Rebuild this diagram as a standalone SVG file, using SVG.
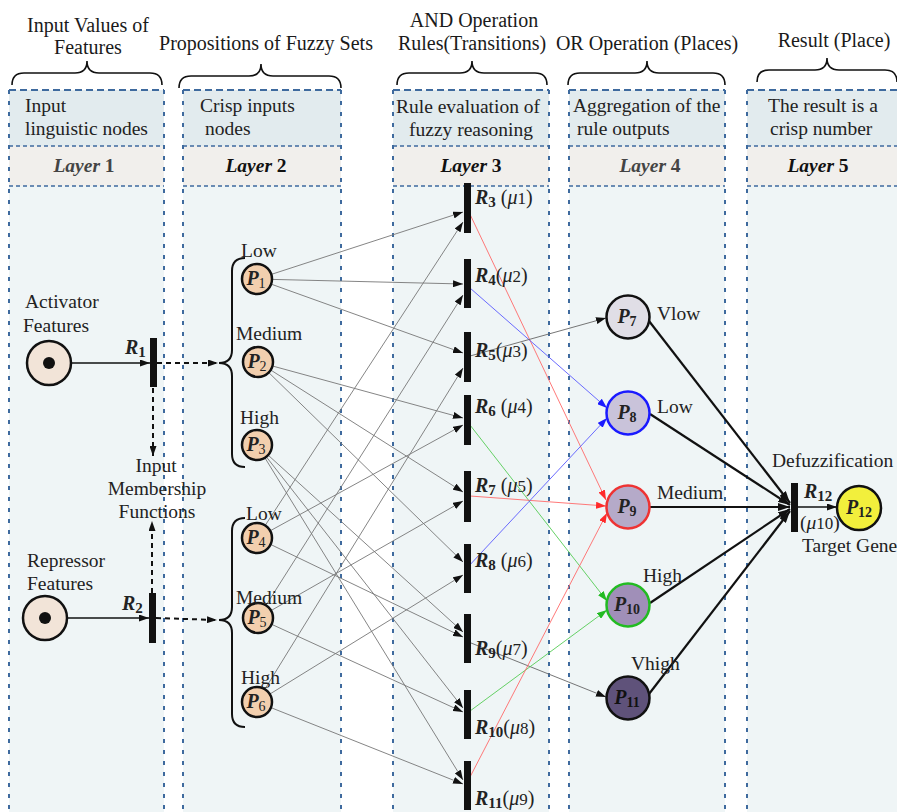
<svg xmlns="http://www.w3.org/2000/svg" width="897" height="812" viewBox="0 0 897 812">
<style>
text{font-family:"Liberation Serif","Times New Roman",serif;fill:#222;font-size:19.5px}
.hdr{font-size:20px;fill:#1a1a1a}
.band1{fill:#e2ebee}
.band2{fill:#f1efec}
.body{fill:#eff5f6}
.bt{fill:none;stroke:#3e6a9e;stroke-width:2;stroke-dasharray:7,4}
.bs{fill:none;stroke:#3e6a9e;stroke-width:2;stroke-dasharray:4,7}
.sep{fill:none;stroke:#3e6a9e;stroke-width:1.6;stroke-dasharray:4,3}
.brace{fill:none;stroke:#111;stroke-width:1.6}
.bi{font-weight:bold;font-style:italic}
.b{font-weight:bold}
.it{font-style:italic}
.sub{font-size:14px}
.rs{font-size:15px;font-weight:bold}
.rl{font-size:20px}
.pin{fill:#f2cfae;stroke:#111;stroke-width:2.5}
.bar{fill:#111}
.thin{stroke:#777;stroke-width:0.9;fill:none;marker-end:url(#ak)}
.gr{stroke:#666;stroke-width:0.9;fill:none;marker-end:url(#ak)}
.rd{stroke:#ff6a6a;stroke-width:0.9;fill:none;marker-end:url(#ar)}
.bl{stroke:#5a5aff;stroke-width:0.9;fill:none;marker-end:url(#ab)}
.gn{stroke:#55cc55;stroke-width:0.9;fill:none;marker-end:url(#ag)}
.thick{stroke:#111;stroke-width:2.2;fill:none;marker-end:url(#akb)}
.solid{stroke:#111;stroke-width:1.6;fill:none;marker-end:url(#ak)}
.dash{stroke:#111;stroke-width:2;fill:none;stroke-dasharray:5,4;marker-end:url(#ak)}
</style>
<defs>
<marker id="ak" viewBox="0 0 10 7" markerWidth="10" markerHeight="7" refX="10" refY="3.5" orient="auto" markerUnits="userSpaceOnUse"><path d="M0,0 L10,3.5 L0,7 z" fill="#111"/></marker>
<marker id="akb" viewBox="0 0 12 8" markerWidth="12" markerHeight="8" refX="12" refY="4" orient="auto" markerUnits="userSpaceOnUse"><path d="M0,0 L12,4 L0,8 z" fill="#111"/></marker>
<marker id="ar" viewBox="0 0 10 7" markerWidth="10" markerHeight="7" refX="10" refY="3.5" orient="auto" markerUnits="userSpaceOnUse"><path d="M0,0 L10,3.5 L0,7 z" fill="#ff2a2a"/></marker>
<marker id="ab" viewBox="0 0 10 7" markerWidth="10" markerHeight="7" refX="10" refY="3.5" orient="auto" markerUnits="userSpaceOnUse"><path d="M0,0 L10,3.5 L0,7 z" fill="#1a1aff"/></marker>
<marker id="ag" viewBox="0 0 10 7" markerWidth="10" markerHeight="7" refX="10" refY="3.5" orient="auto" markerUnits="userSpaceOnUse"><path d="M0,0 L10,3.5 L0,7 z" fill="#22bb22"/></marker>
</defs>
<rect width="897" height="812" fill="#fff"/>

<g id="panels">
<rect class="band1" x="9" y="90" width="155" height="56"/><rect class="band2" x="9" y="146" width="155" height="40"/><rect class="body" x="9" y="186" width="155" height="626"/>
<rect class="band1" x="183" y="90" width="158" height="56"/><rect class="band2" x="183" y="146" width="158" height="40"/><rect class="body" x="183" y="186" width="158" height="626"/>
<rect class="band1" x="393" y="90" width="156" height="56"/><rect class="band2" x="393" y="146" width="156" height="40"/><rect class="body" x="393" y="186" width="156" height="626"/>
<rect class="band1" x="569" y="90" width="156" height="56"/><rect class="band2" x="569" y="146" width="156" height="40"/><rect class="body" x="569" y="186" width="156" height="626"/>
<rect class="band1" x="747" y="90" width="152" height="56"/><rect class="band2" x="747" y="146" width="152" height="40"/><rect class="body" x="747" y="186" width="152" height="626"/>
<path class="bt" d="M9,90 H164 M183,90 H341 M393,90 H549 M569,90 H725 M747,90 H897"/>
<path class="sep" d="M9,146 H164 M183,146 H341 M393,146 H549 M569,146 H725 M747,146 H897 M9,186 H164 M183,186 H341 M393,186 H549 M569,186 H725 M747,186 H897"/>
<path class="bs" d="M9,90 V812 M164,90 V812 M183,90 V812 M341,90 V812 M393,90 V812 M549,90 V812 M569,90 V812 M725,90 V812 M747,90 V812"/>
</g>

<g id="headers">
<text class="hdr" x="88" y="32" text-anchor="middle">Input Values of</text>
<text class="hdr" x="88" y="54" text-anchor="middle">Features</text>
<text class="hdr" x="266" y="50" text-anchor="middle">Propositions of Fuzzy Sets</text>
<text class="hdr" x="474" y="27" text-anchor="middle">AND Operation</text>
<text class="hdr" x="472" y="50" text-anchor="middle">Rules(Transitions)</text>
<text class="hdr" x="647" y="50" text-anchor="middle">OR Operation (Places)</text>
<text class="hdr" x="834" y="47" text-anchor="middle">Result (Place)</text>
<path class="brace" d="M12,85 Q12,73 24,73 L75,73 Q87,73 87,61 Q87,73 99,73 L150,73 Q162,73 162,85"/>
<path class="brace" d="M179,88 Q179,76 191,76 L249,76 Q261,76 261,64 Q261,76 273,76 L329,76 Q341,76 341,88"/>
<path class="brace" d="M397,85 Q397,73 409,73 L460,73 Q472,73 472,61 Q472,73 484,73 L535,73 Q547,73 547,85"/>
<path class="brace" d="M568,85 Q568,73 580,73 L635,73 Q647,73 647,61 Q647,73 659,73 L713,73 Q725,73 725,85"/>
<path class="brace" d="M757,82 Q757,70 769,70 L815,70 Q827,70 827,58 Q827,70 839,70 L885,70 Q897,70 897,82"/>
<text x="25" y="112">Input</text>
<text x="25" y="135">linguistic nodes</text>
<text x="200" y="112">Crisp inputs</text>
<text x="205" y="135">nodes</text>
<text x="396" y="113">Rule evaluation of</text>
<text x="409" y="136">fuzzy reasoning</text>
<text x="573" y="112">Aggregation of the</text>
<text x="577" y="135">rule outputs</text>
<text x="768" y="112">The result is a</text>
<text x="770" y="135">crisp number</text>
<text x="84" y="172" text-anchor="middle" style="fill:#444"><tspan class="bi">Layer</tspan><tspan class="b"> 1</tspan></text>
<text x="256" y="172" text-anchor="middle" style="fill:#111"><tspan class="bi">Layer</tspan><tspan class="b"> 2</tspan></text>
<text x="471" y="172" text-anchor="middle" style="fill:#111"><tspan class="bi">Layer</tspan><tspan class="b"> 3</tspan></text>
<text x="650" y="172" text-anchor="middle" style="fill:#444"><tspan class="bi">Layer</tspan><tspan class="b"> 4</tspan></text>
<text x="818" y="172" text-anchor="middle" style="fill:#111"><tspan class="bi">Layer</tspan><tspan class="b"> 5</tspan></text>
</g>

<g id="connectors">
<line class="solid" x1="71" y1="363" x2="150" y2="363"/>
<line class="solid" x1="67" y1="618" x2="149" y2="618"/>
<line class="dash" x1="157" y1="363" x2="218" y2="363"/>
<line class="dash" x1="156" y1="618" x2="217" y2="620"/>
<line class="dash" x1="153" y1="388" x2="153" y2="456"/>
<line class="dash" x1="152" y1="593" x2="152" y2="521"/>
<path class="brace" style="stroke-width:2" d="M245,258 Q232,258 232,271 L232,350 Q232,363 219,363 Q232,363 232,376 L232,454 Q232,467 245,467"/>
<path class="brace" style="stroke-width:2" d="M245,518 Q232,518 232,531 L232,607 Q232,620 219,620 Q232,620 232,633 L232,714 Q232,727 245,727"/>
<line class="thin" x1="271.3" y1="274.4" x2="463" y2="212"/>
<line class="thin" x1="272" y1="279.4" x2="463" y2="284"/>
<line class="thin" x1="271.1" y1="284.1" x2="463" y2="353"/>
<line class="thin" x1="272.5" y1="366" x2="463" y2="418"/>
<line class="thin" x1="270.7" y1="370" x2="463" y2="492"/>
<line class="thin" x1="268.7" y1="372.5" x2="463" y2="562"/>
<line class="thin" x1="268.1" y1="455.1" x2="463" y2="632"/>
<line class="thin" x1="266.3" y1="456.8" x2="463" y2="708"/>
<line class="thin" x1="264.9" y1="457.8" x2="463" y2="780"/>
<line class="thin" x1="265.2" y1="525.4" x2="463" y2="222"/>
<line class="thin" x1="270.2" y1="530.8" x2="463" y2="425"/>
<line class="thin" x1="270.5" y1="544.4" x2="463" y2="637"/>
<line class="thin" x1="266" y1="605.3" x2="463" y2="295"/>
<line class="thin" x1="271" y1="610.6" x2="463" y2="501"/>
<line class="thin" x1="271.6" y1="624.3" x2="463" y2="712"/>
<line class="thin" x1="264.9" y1="689.2" x2="463" y2="368"/>
<line class="thin" x1="269.8" y1="694.1" x2="463" y2="575"/>
<line class="thin" x1="270.9" y1="707.6" x2="463" y2="784"/>
<line class="rd" x1="467" y1="208" x2="606" y2="500"/>
<line class="bl" x1="470" y1="288" x2="607" y2="408"/>
<line class="gr" x1="470" y1="356" x2="606" y2="318"/>
<line class="gn" x1="470" y1="425" x2="607" y2="601"/>
<line class="rd" x1="470" y1="496" x2="606" y2="506"/>
<line class="bl" x1="467" y1="568" x2="607" y2="418"/>
<line class="gr" x1="466" y1="641" x2="606" y2="697"/>
<line class="gn" x1="470" y1="711" x2="607" y2="610"/>
<line class="rd" x1="470" y1="777" x2="607" y2="513"/>
<line class="thick" x1="649" y1="321" x2="790" y2="503"/>
<line class="thick" x1="650" y1="414" x2="790" y2="505"/>
<line class="thick" x1="650" y1="507" x2="790" y2="507"/>
<line class="thick" x1="650" y1="603" x2="790" y2="509"/>
<line class="thick" x1="649" y1="694" x2="790" y2="511"/>
<line class="solid" x1="798" y1="507" x2="837" y2="507"/>
</g>

<g id="activator">
<circle cx="49" cy="363" r="22" fill="#f2e4d8" stroke="#111" stroke-width="2.5"/>
<circle cx="49" cy="363" r="6" fill="#111"/>
<text x="25" y="308">Activator</text>
<text x="23" y="332">Features</text>
</g>
<g id="repressor">
<circle cx="45" cy="618" r="22" fill="#f2e4d8" stroke="#111" stroke-width="2.5"/>
<circle cx="45" cy="618" r="6" fill="#111"/>
<text x="27" y="567">Repressor</text>
<text x="27" y="590">Features</text>
</g>
<g id="R1">
<rect class="bar" x="150" y="338" width="7" height="49"/>
<text x="125" y="354" class="rl"><tspan class="bi">R</tspan><tspan class="rs" dy="3">1</tspan></text>
</g>
<g id="R2">
<rect class="bar" x="149" y="593" width="7" height="50"/>
<text x="122" y="610" class="rl"><tspan class="bi">R</tspan><tspan class="rs" dy="3">2</tspan></text>
</g>
<g id="imf">
<text x="156" y="472" text-anchor="middle">Input</text>
<text x="157" y="495" text-anchor="middle">Membership</text>
<text x="157" y="518" text-anchor="middle">Functions</text>
</g>

<g id="P1"><circle class="pin" cx="257" cy="279" r="15"/><text x="256" y="285" text-anchor="middle" class="rl"><tspan class="bi">P</tspan><tspan class="sub" dy="3">1</tspan></text><text x="241" y="257">Low</text></g>
<g id="P2"><circle class="pin" cx="258" cy="362" r="15"/><text x="257" y="368" text-anchor="middle" class="rl"><tspan class="bi">P</tspan><tspan class="sub" dy="3">2</tspan></text><text x="236" y="340">Medium</text></g>
<g id="P3"><circle class="pin" cx="257" cy="445" r="15"/><text x="256" y="451" text-anchor="middle" class="rl"><tspan class="bi">P</tspan><tspan class="sub" dy="3">3</tspan></text><text x="240" y="424">High</text></g>
<g id="P4"><circle class="pin" cx="257" cy="538" r="15"/><text x="256" y="544" text-anchor="middle" class="rl"><tspan class="bi">P</tspan><tspan class="sub" dy="3">4</tspan></text><text x="246" y="520">Low</text></g>
<g id="P5"><circle class="pin" cx="258" cy="618" r="15"/><text x="257" y="624" text-anchor="middle" class="rl"><tspan class="bi">P</tspan><tspan class="sub" dy="3">5</tspan></text><text x="236" y="604">Medium</text></g>
<g id="P6"><circle class="pin" cx="257" cy="702" r="15"/><text x="256" y="708" text-anchor="middle" class="rl"><tspan class="bi">P</tspan><tspan class="sub" dy="3">6</tspan></text><text x="241" y="684">High</text></g>

<g id="R3"><rect class="bar" x="464" y="183" width="7" height="50"/><text x="475" y="204" class="rl"><tspan class="bi">R</tspan><tspan class="rs" dy="3">3</tspan><tspan dy="-3"> (</tspan><tspan class="it">μ</tspan><tspan font-size="17">1</tspan>)</text></g>
<g id="R4"><rect class="bar" x="464" y="259" width="7" height="49"/><text x="475" y="282" class="rl"><tspan class="bi">R</tspan><tspan class="rs" dy="3">4</tspan><tspan dy="-3">(</tspan><tspan class="it">μ</tspan><tspan font-size="17">2</tspan>)</text></g>
<g id="R5"><rect class="bar" x="464" y="332" width="7" height="50"/><text x="475" y="357" class="rl"><tspan class="bi">R</tspan><tspan class="rs" dy="3">5</tspan><tspan dy="-3">(</tspan><tspan class="it">μ</tspan><tspan font-size="17">3</tspan>)</text></g>
<g id="R6"><rect class="bar" x="464" y="395" width="7" height="50"/><text x="475" y="413" class="rl"><tspan class="bi">R</tspan><tspan class="rs" dy="3">6</tspan><tspan dy="-3"> (</tspan><tspan class="it">μ</tspan><tspan font-size="17">4</tspan>)</text></g>
<g id="R7"><rect class="bar" x="464" y="471" width="7" height="51"/><text x="475" y="492" class="rl"><tspan class="bi">R</tspan><tspan class="rs" dy="3">7</tspan><tspan dy="-3"> (</tspan><tspan class="it">μ</tspan><tspan font-size="17">5</tspan>)</text></g>
<g id="R8"><rect class="bar" x="464" y="544" width="7" height="49"/><text x="475" y="567" class="rl"><tspan class="bi">R</tspan><tspan class="rs" dy="3">8</tspan><tspan dy="-3"> (</tspan><tspan class="it">μ</tspan><tspan font-size="17">6</tspan>)</text></g>
<g id="R9"><rect class="bar" x="464" y="614" width="7" height="49"/><text x="475" y="655" class="rl"><tspan class="bi">R</tspan><tspan class="rs" dy="3">9</tspan><tspan dy="-3">(</tspan><tspan class="it">μ</tspan><tspan font-size="17">7</tspan>)</text></g>
<g id="R10"><rect class="bar" x="464" y="690" width="7" height="49"/><text x="475" y="734" class="rl"><tspan class="bi">R</tspan><tspan class="rs" dy="3">10</tspan><tspan dy="-3">(</tspan><tspan class="it">μ</tspan><tspan font-size="17">8</tspan>)</text></g>
<g id="R11"><rect class="bar" x="464" y="761" width="7" height="49"/><text x="475" y="805" class="rl"><tspan class="bi">R</tspan><tspan class="rs" dy="3">11</tspan><tspan dy="-3">(</tspan><tspan class="it">μ</tspan><tspan font-size="17">9</tspan>)</text></g>

<g id="P7"><circle cx="628" cy="317" r="21.5" fill="#e0dee6" stroke="#111" stroke-width="2.5"/><text x="627" y="323" text-anchor="middle" class="rl"><tspan class="bi">P</tspan><tspan class="sub b" dy="3">7</tspan></text><text x="657" y="320">Vlow</text></g>
<g id="P8"><circle cx="628" cy="413" r="21.5" fill="#c9c3da" stroke="#1a1aff" stroke-width="2.5"/><text x="627" y="419" text-anchor="middle" class="rl"><tspan class="bi">P</tspan><tspan class="sub b" dy="3">8</tspan></text><text x="657" y="413">Low</text></g>
<g id="P9"><circle cx="628" cy="507" r="21.5" fill="#b5aac9" stroke="#ee3333" stroke-width="2.5"/><text x="627" y="513" text-anchor="middle" class="rl"><tspan class="bi">P</tspan><tspan class="sub b" dy="3">9</tspan></text><text x="657" y="499">Medium</text></g>
<g id="P10"><circle cx="628" cy="605" r="21.5" fill="#a08fb8" stroke="#22bb22" stroke-width="2.5"/><text x="627" y="611" text-anchor="middle" class="rl"><tspan class="bi">P</tspan><tspan class="sub b" dy="3">10</tspan></text><text x="643" y="582">High</text></g>
<g id="P11"><circle cx="628" cy="698" r="21.5" fill="#5f527a" stroke="#111" stroke-width="2.5"/><text x="627" y="704" text-anchor="middle" class="rl" style="fill:#111"><tspan class="bi">P</tspan><tspan class="sub b" dy="3">11</tspan></text><text x="631" y="670">Vhigh</text></g>

<g id="R12"><rect class="bar" x="791" y="483" width="7" height="49"/><text x="772" y="467">Defuzzification</text><text x="804" y="498" class="rl"><tspan class="bi">R</tspan><tspan class="rs" dy="3">12</tspan></text><text x="800" y="529">(<tspan class="it">μ</tspan><tspan font-size="17">10</tspan>)</text></g>
<g id="P12"><circle cx="859" cy="508" r="22" fill="#f2ef3c" stroke="#111" stroke-width="2.5"/><text x="859" y="514" text-anchor="middle" class="rl"><tspan class="bi">P</tspan><tspan class="sub b" dy="3">12</tspan></text><text x="802" y="552">Target Gene</text></g>
</svg>
